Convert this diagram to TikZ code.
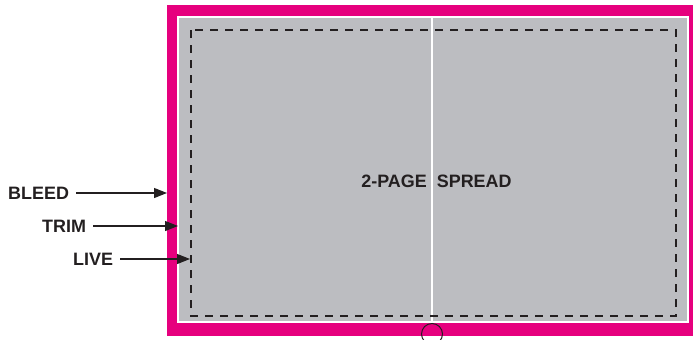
\documentclass[tikz,border=0pt]{standalone}
\usepackage{fontspec}
\setmainfont{Liberation Sans}
\usetikzlibrary{arrows.meta}
\definecolor{magentableed}{RGB}{230,0,126}
\definecolor{pagegray}{RGB}{188,189,193}
\definecolor{inkdark}{RGB}{35,31,32}
\tikzset{
  lbl/.style={font=\fontsize{18}{21}\selectfont\bfseries, text=inkdark, inner sep=0pt, anchor=west},
  pointer/.style={draw=inkdark, line width=1.1bp, -{Triangle[length=13bp,width=10bp]}, shorten <=7bp},
  liveline/.style={draw=inkdark, line width=1.2bp, dash pattern=on 8bp off 7bp}
}
\begin{document}
\begin{tikzpicture}[x=1bp,y=-1bp]
\useasboundingbox (0,0) rectangle (693,339);
\clip (0,0) rectangle (693,339);
\fill[white] (0,0) rectangle (693,339);
% bleed
\fill[magentableed] (167,5) rectangle (693,336);
% white trim gap
\fill[white] (177,16) rectangle (689,323);
% page
\fill[pagegray] (179,18) rectangle (687,321);
% gutter
\draw[white, line width=1.5bp] (432,18) -- (432,321);
% live area
\draw[liveline] (191,30) rectangle (676,316);
% text
\node[font=\fontsize{18}{21}\selectfont\bfseries, text=inkdark, inner sep=0pt] (title) at (436.5,181) {2-PAGE\hspace{10bp}SPREAD};
% circle
\node[draw=inkdark, line width=1bp, circle, minimum size=21bp, inner sep=0pt] (mark) at (432,334) {};
% labels
\node[lbl] (bleed) at (8,193) {BLEED};
\node[lbl] (trim) at (42,226) {TRIM};
\node[lbl] (live) at (73,259) {LIVE};
\coordinate (bleedpt) at (167,193);
\coordinate (trimpt) at (178,226);
\coordinate (livept) at (190,259);
\draw[pointer] (bleed.east) -- (bleedpt);
\draw[pointer] (trim.east) -- (trimpt);
\draw[pointer] (live.east) -- (livept);
\end{tikzpicture}
\end{document}
